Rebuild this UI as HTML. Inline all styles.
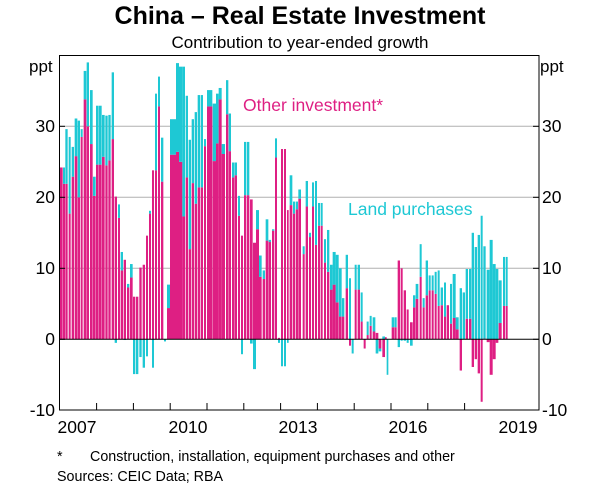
<!DOCTYPE html>
<html><head><meta charset="utf-8"><style>
body{margin:0;background:#fff;}
svg{display:block;font-family:"Liberation Sans",Arial,sans-serif;}
</style></head><body>
<svg id="s" width="600" height="489" viewBox="0 0 600 489" xmlns="http://www.w3.org/2000/svg">
<rect width="600" height="489" fill="#fff"/>
<text x="300" y="24" text-anchor="middle" font-size="25" font-weight="bold">China – Real Estate Investment</text>
<text x="300" y="48" text-anchor="middle" font-size="17">Contribution to year-ended growth</text>
<text x="29" y="72" font-size="17">ppt</text>
<text x="540" y="72" font-size="17">ppt</text>
<g stroke="#b0b0b0" stroke-width="1">
<line x1="59" x2="539" y1="268.3" y2="268.3"/>
<line x1="59" x2="539" y1="197.3" y2="197.3"/>
<line x1="59" x2="539" y1="126.3" y2="126.3"/>
</g>
<g id="bars"></g>
<line x1="59" x2="539" y1="339.3" y2="339.3" stroke="#000" stroke-width="1"/>
<rect x="59.5" y="55.5" width="479.5" height="354.5" fill="none" stroke="#000" stroke-width="1"/>
<g id="ticks" stroke="#000" stroke-width="1"></g>
<g font-size="17.5">
<text x="55" y="132" text-anchor="end">30</text>
<text x="55" y="203" text-anchor="end">20</text>
<text x="55" y="274" text-anchor="end">10</text>
<text x="55" y="345" text-anchor="end">0</text>
<text x="55" y="416" text-anchor="end">-10</text>
<text x="542" y="132">30</text>
<text x="542" y="203">20</text>
<text x="542" y="274">10</text>
<text x="542" y="345">0</text>
<text x="542" y="416">-10</text>
<text x="77" y="433" text-anchor="middle">2007</text>
<text x="188" y="433" text-anchor="middle">2010</text>
<text x="298" y="433" text-anchor="middle">2013</text>
<text x="408" y="433" text-anchor="middle">2016</text>
<text x="518" y="433" text-anchor="middle">2019</text>
<text x="243" y="111" fill="#de1f83">Other investment*</text>
<text x="348" y="215" fill="#1ec8d4">Land purchases</text>
</g>
<g font-size="14.3">
<text x="57" y="461">*</text>
<text x="90" y="461">Construction, installation, equipment purchases and other</text>
<text x="57" y="481">Sources:   CEIC Data; RBA</text>
</g>
</svg>
<script>
var P='#de1f83',C='#1ec8d4';
var d=[
[55,14,23,24.2,0],[55,24,30,21.9,2.3],[55,31,38,21.9,7.7],[55,41,47,17.7,10.8],[55,50,57,22.9,4.2],[55,59,67,25.8,5.3],[55,68,75,20,10.8],[55,77,83,28.5,1.1],[55,86,94,33.8,4],[55,95,102,30,9],[55,105,113,27.5,7.6],[55,114,122,20.2,2.7],[55,123,131,24.6,8.3],[55,132,140,24.6,8.3],[55,141,149,25.7,5.9],[55,151,158,24.5,7],[55,160,167,25.2,6.4],[55,170,177,28.2,9.4],[55,179,186,20.1,-0.5],[55,189,195,17.1,1.9],[55,197,204,9.7,2.6],[55,206,213,11.2,-0.1],[55,216,223,7.3,0.5],[55,225,233,8.7,1.9],[55,234,241,6,-4.9],[55,243,250,6,-4.9],[55,253,260,10.1,-2.5],[55,263,270,10.5,-4],[55,273,279,14.6,-2.4],[55,282,288,17.7,0.4],[55,291,297,23.8,-4],[55,300,306,23.8,10.8],[55,309,315,32.8,4.2],[55,318,325,22.2,6.2],[55,327,333,0,-0.3],[55,336,345,4.4,3.3],[55,345,363,26,5],[55,363,372,26.4,12.5],[55,372,382,25,13.4],[55,382,390,17.3,21.1],[55,392,399,22.8,11.5],[55,401,408,12.7,15.4],[55,410,417,22,9],[55,419,426,19.1,12.9],[55,428,435,21.4,13],[55,437,444,21.4,13],[55,447,453,27.2,1],[55,456,472,32.8,2.3],[55,473,483,25.1,8.1],[55,483,491,27.6,7],[55,491,500,33.8,1.6],[55,500,510,26.1,1.4],
[215,33,40,31.7,4.8],[215,41,48,26.5,5.3],[215,51,58,22.8,2.1],[215,59,66,23.1,1.8],[215,69,75,17.4,2.8],[215,78,84,14.6,-2.1],[215,87,94,20.3,7.5],[215,96,103,20.3,7.5],[215,105,113,19.7,-0.6],[215,114,123,13.6,-4.2],[215,123,132,15.5,2.7],[215,132,140,8.8,3],[215,143,150,8.5,1.2],[215,152,160,13.9,3],[215,161,168,13.7,0.3],[215,171,178,15.3,0.2],[215,180,186,25.6,2.7],[215,189,195,0.2,-0.5],[215,198,204,26.8,-3.8],[215,207,213,26.8,-3.8],[215,216,221,18.2,-0.5],[215,224,232,18.9,4.2],[215,234,240,17.7,1.7],[215,242,249,18.3,1.1],[215,250,258,19.8,1.3],[215,263,269,12,1.1],[215,272,279,18.7,3.6],[215,282,288,14.4,0.6],[215,291,297,18.7,3.4],[215,300,306,13.3,9],[215,309,315,16,3.2],[215,317,323,16,3.2],[215,327,333,10.8,3.3],[215,336,343,9.5,5.9],[215,345,353,7,3.5],[215,353,362,7.7,4.6],[215,362,371,5.2,6.7],[215,372,380,3.2,6.8],[215,381,388,3.2,2.6],[215,392,399,7.2,4.7],[215,402,408,-0.9,8.6],[215,410,416,0,-2],[215,419,425,7,3.5],[215,428,435,7,3.5],[215,437,443,2.5,4.1],[215,446,452,-1.3,0],[215,455,461,0.6,1.9],[215,464,470,1.9,1.4],[215,473,481,1.1,2],[215,482,490,0.9,-2],[215,491,499,-1.3,-0.4],[215,502,510,-2.5,0.4],
[375,30,35,0.3,0],[375,35,40,0,-5],[375,50,57,1.7,1.4],[375,58,65,1.7,1.4],[375,68,75,11.1,-1.1],[375,77,83,10,-0.2],[375,86,93,6.9,-0.2],[375,95,101,4.2,-0.5],[375,105,113,2.4,-0.9],[375,114,121,4.5,1.7],[375,122,130,5.7,2.1],[375,134,140,8.8,4.6],[375,143,149,4.5,1.3],[375,152,159,6.2,4.9],[375,161,167,6.9,2.1],[375,170,176,6.9,2.1],[375,179,185,6.4,3.1],[375,188,194,4.7,5],[375,197,204,4.8,2.5],[375,207,213,3.2,4.8],[375,215,222,4.8,0],[375,225,231,2.2,5.6],[375,233,242,3,6.2],[375,242,251,1.4,1.7],[375,254,261,-4.4,7.2],[375,263,270,0,6.6],[375,272,279,2.9,7],[375,282,289,2.9,7],[375,290,297,-3.9,15],[375,299,306,-2.8,13],[375,308,315,-4.8,14.7],[375,317,323,-8.8,17.4],[375,325,332,0.1,13],[375,335,344,-0.4,9.8],[375,344,353,-5,14],[375,353,362,-2.8,10.6],[375,362,370,-0.5,9.9],[375,371,380,2.3,6],[375,384,390,4.7,6.9],[375,392,398,4.7,6.9]
];
var Y=function(v){return 339.3-v*7.1;};
var g=document.getElementById('bars'),h='';
function r(x,w,a,b,c){var y1=Y(Math.max(a,b)),y2=Y(Math.min(a,b));h+='<rect x="'+x.toFixed(2)+'" y="'+y1.toFixed(2)+'" width="'+w.toFixed(2)+'" height="'+(y2-y1).toFixed(2)+'" fill="'+c+'"/>';}
d.forEach(function(e){var x=e[0]+e[1]/3,w=(e[2]-e[1])/3,p=e[3],l=e[4];
 r(x,w,0,p,P);
 if(l>=0){var b=Math.max(p,0);r(x,w,b,b+l,C);}else{var b2=Math.min(p,0);r(x,w,b2,b2+l,C);}
});
g.innerHTML=h;
var t='';for(var i=1;i<12;i++){var x=59.8+i*36.8;t+='<line x1="'+x+'" x2="'+x+'" y1="410" y2="403"/>';}
[126.3,197.3,268.3,339.3].forEach(function(y){t+='<line x1="59" x2="65" y1="'+y+'" y2="'+y+'"/><line x1="533" x2="539" y1="'+y+'" y2="'+y+'"/>';});
document.getElementById('ticks').innerHTML=t;
</script>
</body></html>
